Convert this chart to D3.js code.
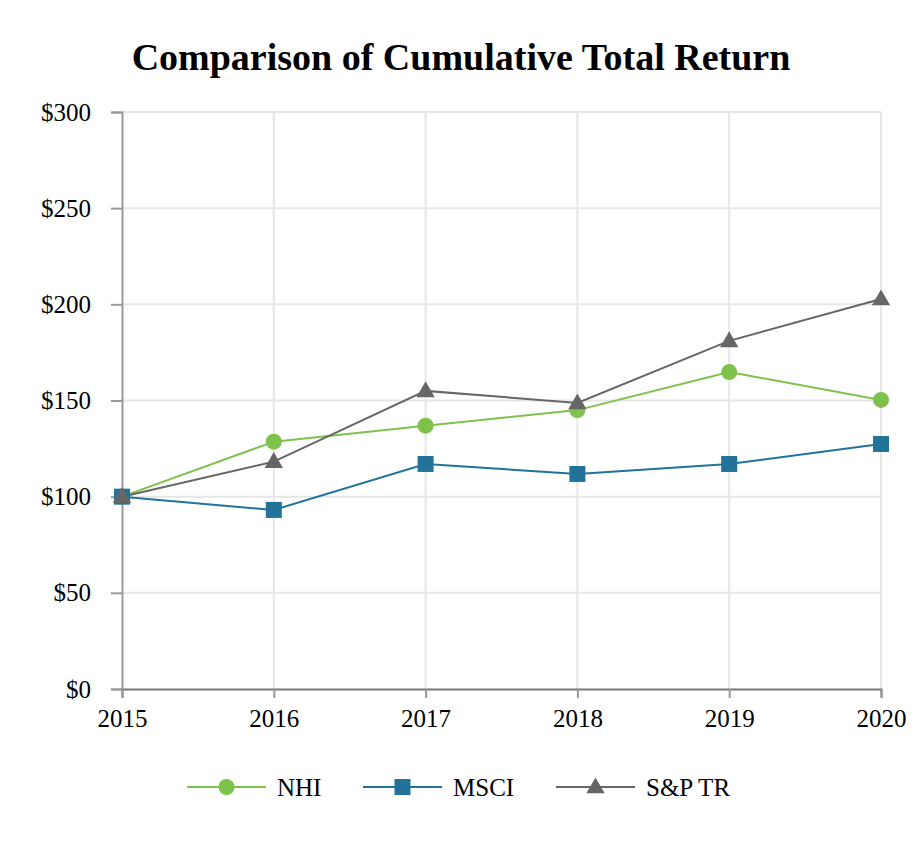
<!DOCTYPE html>
<html><head><meta charset="utf-8">
<script src="https://cdn.jsdelivr.net/npm/d3@7"></script>
<style>body{margin:0;background:#fff}</style>
</head><body>
<svg id="c" width="920" height="850"></svg>
<script>
const years = [2015, 2016, 2017, 2018, 2019, 2020];
const nhi = [100, 128.6, 136.9, 145, 164.8, 150.3];
const msci = [100, 93.1, 117, 111.8, 117, 127.4];
const sp = [100, 118.2, 155, 148.7, 181, 202.8];
const yTicks = [0, 50, 100, 150, 200, 250, 300];
const seriesNames = ["NHI", "MSCI", "S&P TR"];

const svg = d3.select("#c");
const font = "'Liberation Serif','Times New Roman',serif";
const m = {l:122, r:881, t:112, b:689};
const x = d3.scaleLinear().domain([2015, 2020]).range([m.l, m.r]);
const y = d3.scaleLinear().domain([0, 300]).range([m.b, m.t]);

svg.append("text").attr("x", 461).attr("y", 70).attr("text-anchor","middle")
  .attr("font-family", font).attr("font-weight","bold").attr("font-size", 38)
  .text("Comparison of Cumulative Total Return");

// grid
const g = svg.append("g");
g.selectAll(".hg").data(yTicks.filter(d=>d>0)).join("line")
  .attr("x1", m.l).attr("x2", m.r).attr("y1", d=>y(d)).attr("y2", d=>y(d))
  .attr("stroke", "#e6e6e6").attr("stroke-width", 2);
g.selectAll(".vg").data(years.slice(1)).join("line")
  .attr("x1", d=>x(d)).attr("x2", d=>x(d)).attr("y1", m.t).attr("y2", m.b)
  .attr("stroke", "#e6e6e6").attr("stroke-width", 2);

// y axis
const ya = svg.append("g").attr("transform", `translate(${m.l},0)`)
  .call(d3.axisLeft(y).tickValues(yTicks).tickFormat(d=>"$"+d).tickSize(11).tickPadding(20));
ya.select(".domain").attr("stroke", "#999").attr("stroke-width", 2);
ya.selectAll(".tick line").attr("stroke", "#999").attr("stroke-width", 2);
ya.selectAll("text").attr("font-family", font).attr("font-size", 25).attr("fill", "#000");

// x axis
const xa = svg.append("g").attr("transform", `translate(0,${m.b})`)
  .call(d3.axisBottom(x).tickValues(years).tickFormat(d3.format("d")).tickSize(9).tickPadding(11));
xa.select(".domain").attr("stroke", "#777").attr("stroke-width", 2);
xa.selectAll(".tick line").attr("stroke", "#999").attr("stroke-width", 2);
xa.selectAll("text").attr("font-family", font).attr("font-size", 25).attr("fill", "#000");

const colors = ["#7dc24b", "#21739a", "#666666"];
const data = [nhi, msci, sp];
const line = d3.line().x((d,i)=>x(years[i])).y(d=>y(d));

function marker(sel, k, cx, cy) {
  if (k === 0) sel.append("circle").attr("cx", cx).attr("cy", cy).attr("r", 8).attr("fill", colors[0]);
  else if (k === 1) sel.append("rect").attr("x", cx-8).attr("y", cy-8).attr("width", 16).attr("height", 16).attr("fill", colors[1]);
  else sel.append("path").attr("d", d3.symbol(d3.symbolTriangle, 145)()).attr("transform", `translate(${cx},${cy+1})`).attr("fill", colors[2]);
}

[0,1,2].forEach(k=>{
  svg.append("path").datum(data[k]).attr("d", line).attr("fill","none")
    .attr("stroke", colors[k]).attr("stroke-width", 2);
});
[0,1,2].forEach(k=>{
  const gg = svg.append("g");
  data[k].forEach((v,i)=>marker(gg, k, x(years[i]), y(v)));
});

// legend
const leg = [{x1:187,x2:266,tx:277},{x1:363,x2:442,tx:453},{x1:556,x2:635,tx:646}];
const ly = 787;
leg.forEach((p,k)=>{
  const lg = svg.append("g");
  lg.append("line").attr("x1", p.x1).attr("x2", p.x2).attr("y1", ly).attr("y2", ly)
    .attr("stroke", colors[k]).attr("stroke-width", 2);
  marker(lg, k, (p.x1+p.x2)/2, ly);
  lg.append("text").attr("x", p.tx).attr("y", ly + 9).attr("font-family", font)
    .attr("font-size", 25).text(seriesNames[k]);
});
</script>
</body></html>
